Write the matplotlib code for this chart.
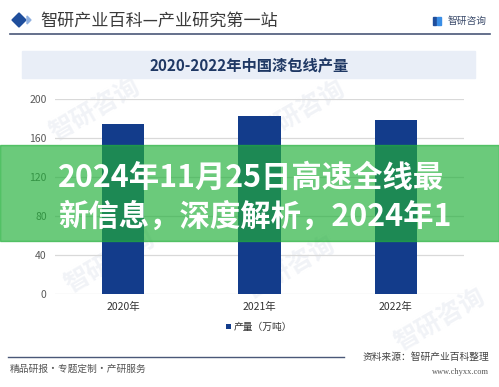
import matplotlib.pyplot as plt
from matplotlib.patches import Rectangle, Polygon

plt.rcParams['font.family'] = ['Noto Sans CJK SC', 'DejaVu Sans']

# data
years = ['2020年', '2021年', '2022年']
output_wt = [174, 183, 178]           # 产量（万吨）
yticks = [0, 40, 80, 120, 160, 200]

title = '2020-2022年中国漆包线产量'
header = '智研产业百科—产业研究第一站'
overlay_lines = ['2024年11月25日高速全线最', '新信息，深度解析，2024年1']

W, H = 499, 387
fig = plt.figure(figsize=(W / 100, H / 100), dpi=100)
fig.patch.set_facecolor('white')

def fx(x): return x / W
def fy(y): return 1 - y / H

# faint watermarks (behind everything)
for (wx, wy) in [(95, 110), (300, 112), (110, 262), (290, 268), (440, 320)]:
    fig.text(fx(wx), fy(wy), '智研咨询', fontsize=18, color='#f1f3f7', rotation=30,
             ha='center', va='center', fontweight='bold', zorder=-5)

# header
fig.add_artist(Polygon([(fx(12), fy(20)), (fx(19), fy(13)), (fx(26), fy(20)), (fx(19), fy(27))],
                       closed=True, transform=fig.transFigure, color='#1f4e9c'))
fig.add_artist(Polygon([(fx(27), fy(16)), (fx(31), fy(20)), (fx(27), fy(24))],
                       closed=True, transform=fig.transFigure, color='#8fb0e0'))
fig.text(fx(40), fy(20.5), header, fontsize=12.3, color='#3a3a3a', va='center', ha='left')
fig.add_artist(Rectangle((fx(433), fy(25)), 3 / W, 8 / H, transform=fig.transFigure, color='#1f4e9c'))
fig.add_artist(Rectangle((fx(437), fy(25)), 4 / W, 8 / H, transform=fig.transFigure, color='#3a8ee6'))
fig.text(fx(448), fy(21), '智研咨询', fontsize=7, color='#3a4a6a', va='center', ha='left')
fig.add_artist(plt.Line2D([fx(10), fx(490)], [fy(34), fy(34)], transform=fig.transFigure,
                          color='#4a5878', lw=1.2))

# title box
fig.add_artist(Rectangle((fx(22), fy(78)), 453 / W, 27 / H, transform=fig.transFigure,
                         color='#e9eef7', zorder=1))
fig.text(0.5, fy(66.5), title, fontsize=11, fontweight='bold', color='#1f3864',
         ha='center', va='center', zorder=2)

# bar chart
ax = fig.add_axes([fx(55), fy(294), (464 - 55) / W, (294 - 99) / H])
ax.set_facecolor('none')
x = range(len(years))
ax.bar(x, output_wt, width=0.31, color='#133c8b', zorder=3, label='产量（万吨）')
ax.set_xlim(-0.5, 2.5)
ax.set_ylim(0, 200)
ax.set_yticks(yticks)
ax.set_yticklabels([str(v) for v in yticks], fontsize=7.5, color='#595959')
ax.set_xticks(list(x))
ax.set_xticklabels(years, fontsize=7.5, color='#333333')
ax.tick_params(length=0, pad=6)
ax.grid(axis='y', color='#d9d9d9', lw=0.9, zorder=0)
for s in ax.spines.values():
    s.set_visible(False)
ax.legend(loc='center', bbox_to_anchor=(0.5, -0.17), frameon=False,
          fontsize=7, handlelength=0.5, handleheight=0.5, handletextpad=0.3,
          labelcolor='#333333')

# footer
fig.add_artist(plt.Line2D([fx(8), fx(344)], [fy(357), fy(357)], transform=fig.transFigure,
                          color='#4a5878', lw=1))
fig.text(fx(10), fy(369), '精品研报・专题定制・产研服务', fontsize=7, color='#555555',
         va='center', ha='left')
fig.text(fx(489), fy(357), '资料来源：智研产业百科整理', fontsize=7, color='#444444',
         va='center', ha='right')
fig.text(fx(489), fy(372), 'www.chyxx.com', fontsize=6, color='#555555', va='center',
         ha='right', family='Liberation Serif')

# green overlay band with headline
fig.add_artist(Rectangle((0, fy(241)), 1, 96 / H, transform=fig.transFigure,
                         color='#22b03a', alpha=0.67, zorder=10))
fig.text(fx(58), fy(178), overlay_lines[0], fontsize=21.9, fontweight='bold', color='white',
         va='center', ha='left', zorder=11)
fig.text(fx(58), fy(217), overlay_lines[1], fontsize=21.9, fontweight='bold', color='white',
         va='center', ha='left', zorder=11)

fig.savefig('out.png', dpi=100)
